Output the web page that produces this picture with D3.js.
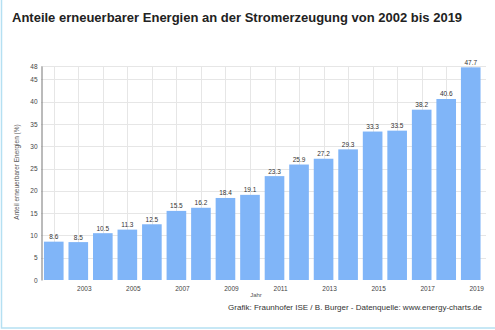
<!DOCTYPE html>
<html>
<head>
<meta charset="utf-8">
<script src="https://cdn.jsdelivr.net/npm/d3@7"></script>
<style>
  body { margin: 0; background: #fff; }
  text { font-family: "Liberation Sans", Arial, sans-serif; }
</style>
</head>
<body>
<svg id="chart" width="495" height="330"></svg>
<script>
var years = [2002, 2003, 2004, 2005, 2006, 2007, 2008, 2009, 2010,
             2011, 2012, 2013, 2014, 2015, 2016, 2017, 2018, 2019];
var shares = [8.6, 8.5, 10.5, 11.3, 12.5, 15.5, 16.2, 18.4, 19.1,
              23.3, 25.9, 27.2, 29.3, 33.3, 33.5, 38.2, 40.6, 47.7];
var yTickValues = [0, 5, 10, 15, 20, 25, 30, 35, 40, 45, 48];
var xTickLabels = [2003, 2005, 2007, 2009, 2011, 2013, 2015, 2017, 2019];

var title = "Anteile erneuerbarer Energien an der Stromerzeugung von 2002 bis 2019",
    xlabel = "Jahr",
    ylabel = "Anteil erneuerbarer Energien (%)",
    credit = "Grafik: Fraunhofer ISE / B. Burger - Datenquelle: www.energy-charts.de";

var svg = d3.select("#chart");

// light blue frame, only left and bottom edge visible
svg.append("rect")
    .attr("x", 1.5).attr("y", -10)
    .attr("width", 520).attr("height", 338)
    .attr("fill", "none")
    .attr("stroke", "#b5e0f2")
    .attr("stroke-width", 1.5);

var xScale = d3.scaleBand()
    .domain(years)
    .range([41.5, 483])
    .paddingInner(0.2)
    .paddingOuter(0.1);

var yScale = d3.scaleLinear()
    .domain([0, 48])
    .range([280, 66]);

// grid
svg.append("g")
    .attr("class", "y grid")
    .selectAll("line")
    .data(yTickValues.filter(function(d) { return d > 0; }))
    .enter().append("line")
    .attr("x1", 41).attr("x2", 486)
    .attr("y1", function(d) { return Math.round(yScale(d)) + 0.5; })
    .attr("y2", function(d) { return Math.round(yScale(d)) + 0.5; })
    .attr("stroke", "#e6e6e6");

svg.append("g")
    .attr("class", "x grid")
    .selectAll("line")
    .data(years)
    .enter().append("line")
    .attr("x1", function(d) { return Math.round(xScale(d) + xScale.bandwidth() / 2) + 0.5; })
    .attr("x2", function(d) { return Math.round(xScale(d) + xScale.bandwidth() / 2) + 0.5; })
    .attr("y1", 66).attr("y2", 280)
    .attr("stroke", "#e6e6e6");

// bars
svg.append("g")
    .attr("class", "content")
    .selectAll("rect")
    .data(years)
    .enter().append("rect")
    .attr("x", function(d) { return xScale(d); })
    .attr("width", xScale.bandwidth())
    .attr("y", function(d, i) { return yScale(shares[i]); })
    .attr("height", function(d, i) { return yScale(0) - yScale(shares[i]); })
    .attr("fill", "#80b5f8");

// value labels
svg.append("g")
    .selectAll("text")
    .data(years)
    .enter().append("text")
    .attr("x", function(d) { return xScale(d) + xScale.bandwidth() / 2; })
    .attr("y", function(d, i) { return yScale(shares[i]) - 2.5; })
    .attr("text-anchor", "middle")
    .attr("font-size", 6.5)
    .attr("fill", "#333")
    .text(function(d, i) { return shares[i]; });

// y axis
var yAxis = d3.axisLeft(yScale)
    .tickValues(yTickValues)
    .tickSize(0)
    .tickPadding(4);

var yg = svg.append("g")
    .attr("class", "y axis")
    .attr("transform", "translate(41.5,0)")
    .call(yAxis);
yg.select(".domain").attr("stroke", "#777");
yg.selectAll("text").attr("font-size", 6.5).attr("fill", "#444")
    .attr("font-family", "Liberation Sans, Arial, sans-serif");

// x axis labels
var xAxis = d3.axisBottom(xScale)
    .tickValues(xTickLabels)
    .tickSize(0)
    .tickPadding(6);

var xg = svg.append("g")
    .attr("class", "x axis")
    .attr("transform", "translate(6,280)")
    .call(xAxis);
xg.select(".domain").remove();
xg.selectAll("text").attr("font-size", 6.5).attr("fill", "#444")
    .attr("font-family", "Liberation Sans, Arial, sans-serif");

svg.append("text")
    .attr("x", 256).attr("y", 297)
    .attr("text-anchor", "middle")
    .attr("font-size", 6)
    .attr("fill", "#555")
    .text(xlabel);

svg.append("text")
    .attr("transform", "translate(19,172) rotate(-90)")
    .attr("text-anchor", "middle")
    .attr("font-size", 6.5)
    .attr("fill", "#555")
    .text(ylabel);

svg.append("text")
    .attr("x", 12).attr("y", 22)
    .attr("font-size", 13)
    .attr("font-weight", "bold")
    .attr("fill", "#222")
    .text(title);

svg.append("text")
    .attr("x", 482).attr("y", 310)
    .attr("text-anchor", "end")
    .attr("font-size", 8)
    .attr("fill", "#333")
    .text(credit);
</script>
</body>
</html>
